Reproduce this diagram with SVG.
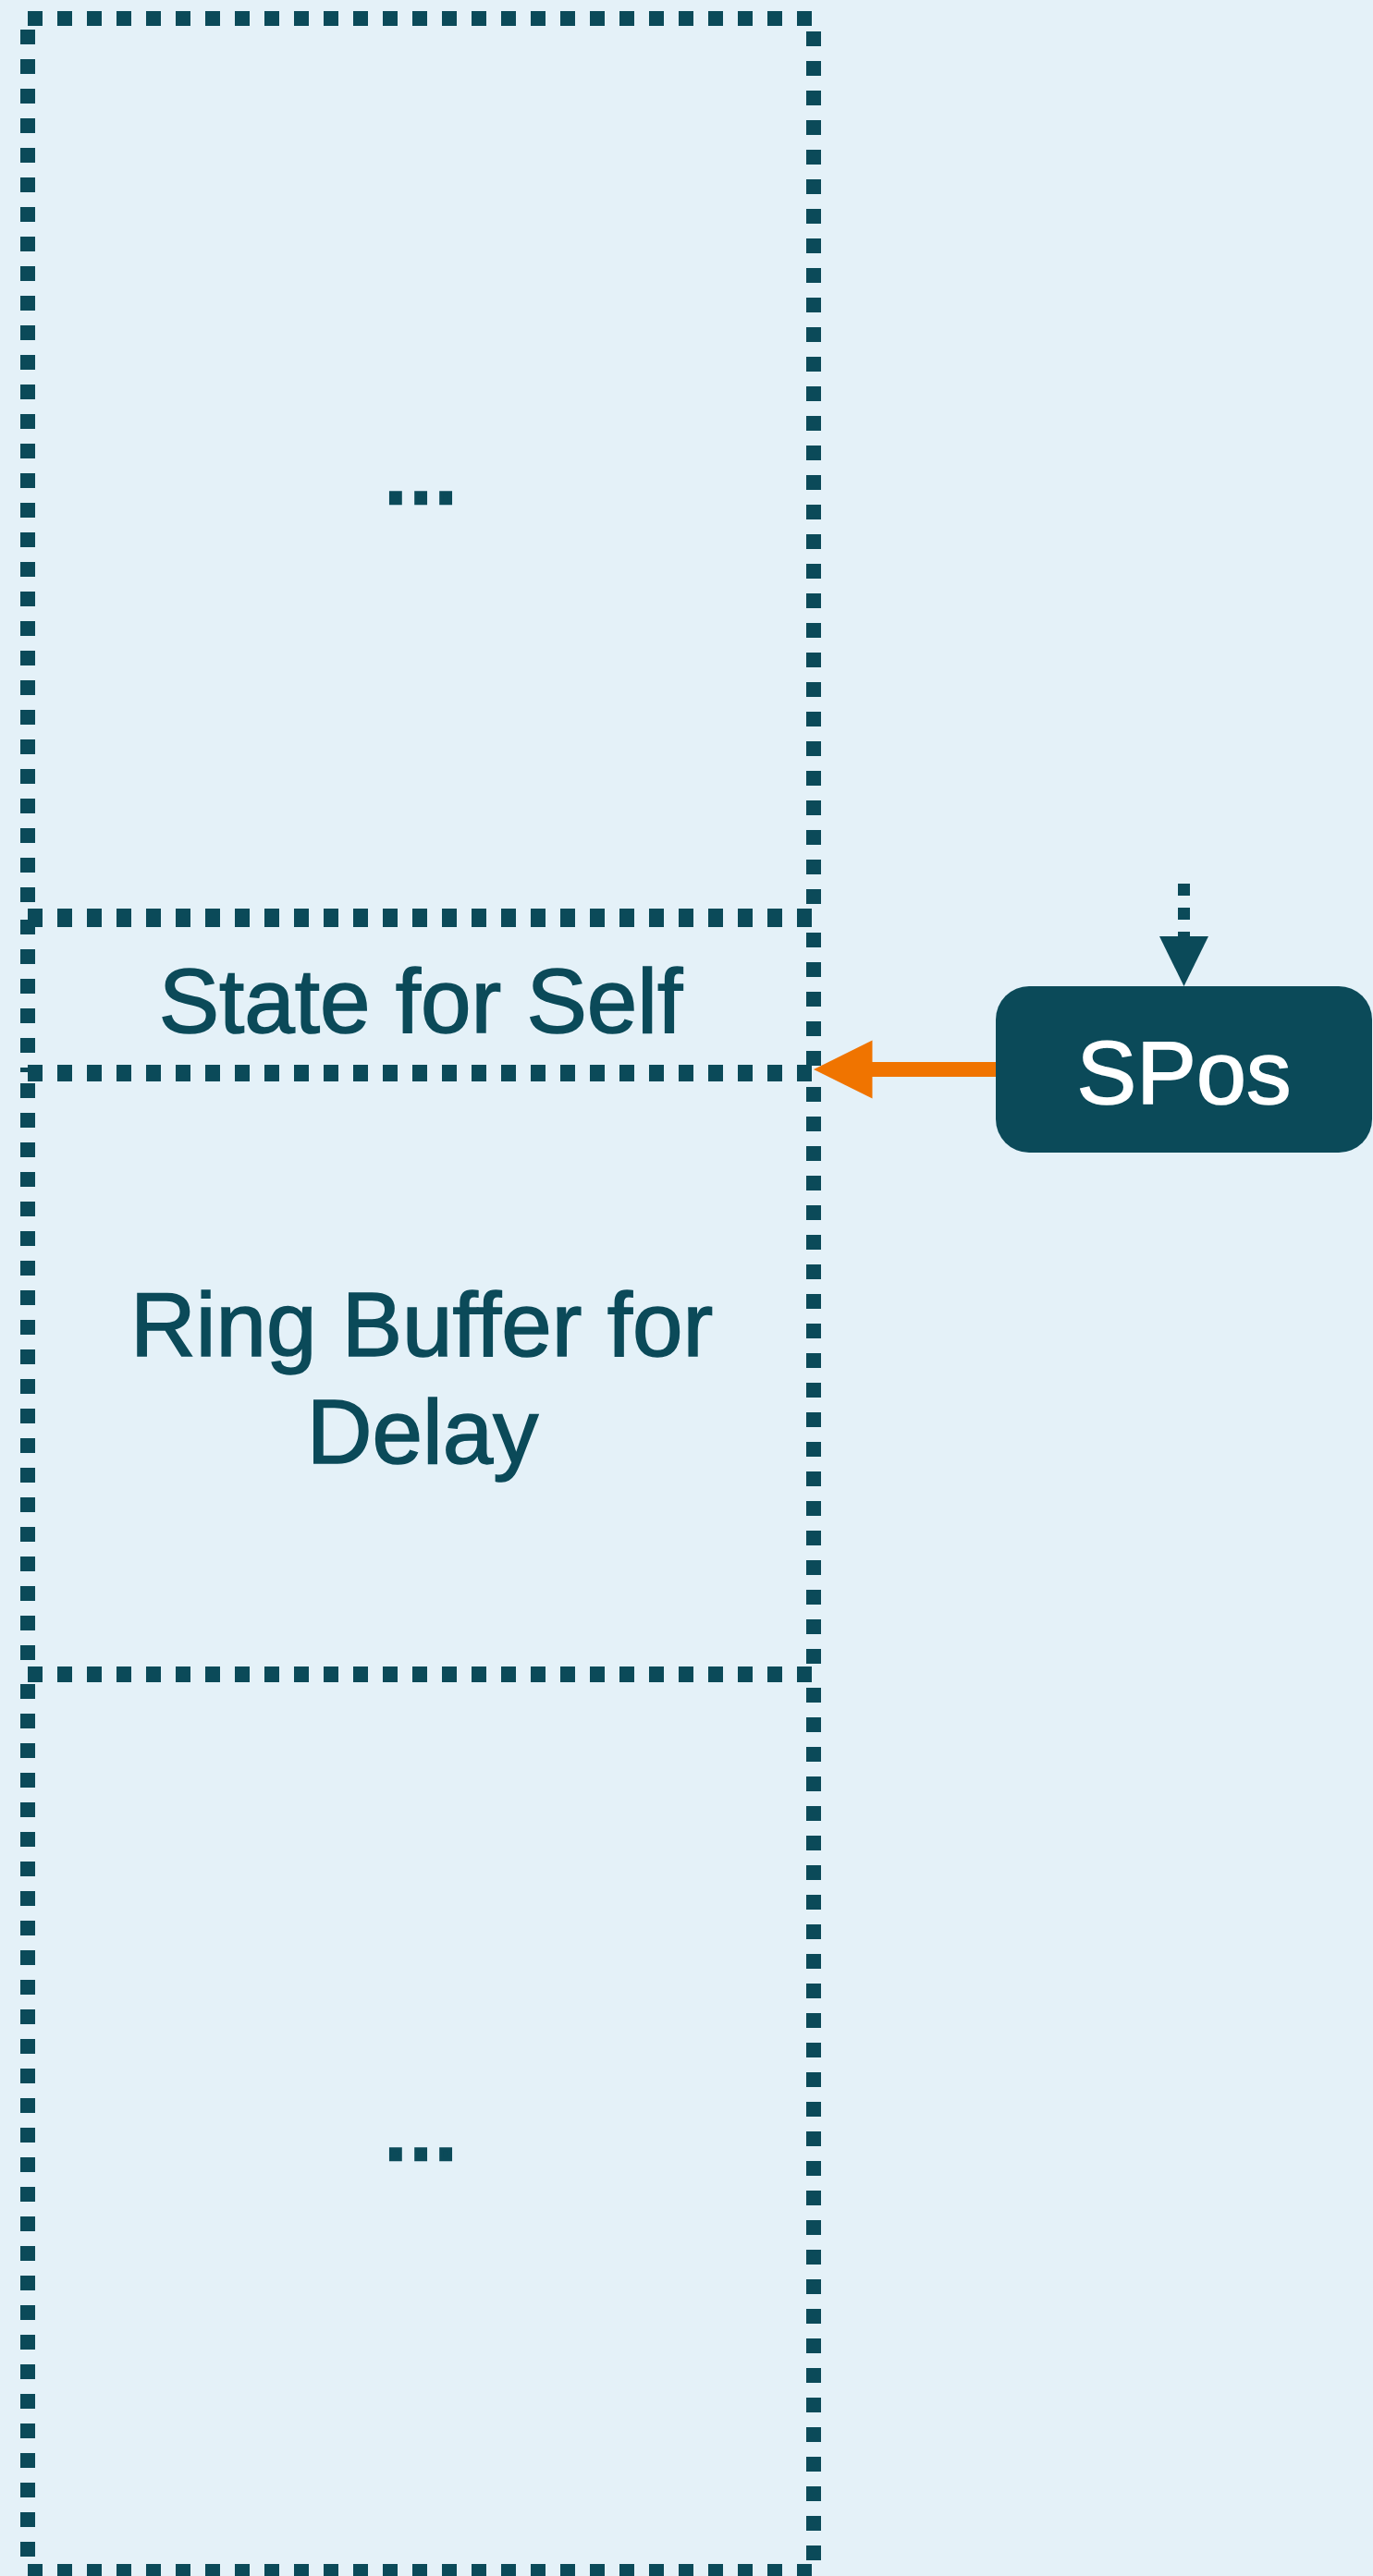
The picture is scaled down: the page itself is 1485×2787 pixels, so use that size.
<svg xmlns="http://www.w3.org/2000/svg" width="1485" height="2787" viewBox="0 0 1485 2787">
  <defs>
    <style>
      .edge { stroke: #0b4a59; stroke-width: 16; stroke-dasharray: 16 16; fill: none; }
      .label { font-family: "Liberation Sans", Arial, Helvetica, sans-serif; font-size: 98px; fill: #0b4a59; stroke: #0b4a59; stroke-width: 1.6; text-anchor: middle; }
      .dots { stroke-width: 4.5; stroke-linejoin: miter; }
      .nodetext { font-family: "Liberation Sans", Arial, Helvetica, sans-serif; font-size: 97px; fill: #ffffff; stroke: #ffffff; stroke-width: 1.6; text-anchor: middle; }
    </style>
  </defs>

  <rect x="0" y="0" width="1485" height="2787" fill="#e4f1f8"/>

  <!-- memory block: upper unspecified region -->
  <g id="region-upper">
    <line class="edge" x1="30" y1="20" x2="880" y2="20"/>
    <line class="edge" x1="30" y1="32" x2="30" y2="991"/>
    <line class="edge" x1="880" y1="34" x2="880" y2="991"/>
    <line class="edge" x1="30" y1="991" x2="880" y2="991"/>
    <text class="label dots" x="455" y="544">...</text>
  </g>

  <!-- memory block: state for self -->
  <g id="region-state">
    <line class="edge" x1="30" y1="995" x2="880" y2="995"/>
    <line class="edge" x1="30" y1="995" x2="30" y2="1160"/>
    <line class="edge" x1="880" y1="1009" x2="880" y2="1160"/>
    <line class="edge" x1="30" y1="1160" x2="880" y2="1160"/>
    <text class="label" x="455" y="1117">State for Self</text>
  </g>

  <!-- memory block: ring buffer -->
  <g id="region-ring">
    <line class="edge" x1="30" y1="1162" x2="880" y2="1162"/>
    <line class="edge" x1="30" y1="1172" x2="30" y2="1811"/>
    <line class="edge" x1="880" y1="1176" x2="880" y2="1811"/>
    <line class="edge" x1="30" y1="1811" x2="880" y2="1811"/>
    <text class="label" x="456" y="1467">Ring Buffer for</text>
    <text class="label" x="457" y="1583">Delay</text>
  </g>

  <!-- memory block: lower unspecified region -->
  <g id="region-lower">
    <line class="edge" x1="30" y1="1812" x2="880" y2="1812"/>
    <line class="edge" x1="30" y1="1822" x2="30" y2="2782"/>
    <line class="edge" x1="880" y1="1826" x2="880" y2="2782"/>
    <line class="edge" x1="30" y1="2782" x2="880" y2="2782"/>
    <text class="label dots" x="455" y="2336">...</text>
  </g>

  <!-- pointer node -->
  <g id="spos">
    <rect x="1077" y="1067" width="407" height="180" rx="36" ry="36" fill="#0b4a59"/>
    <text class="nodetext" x="1280.5" y="1194">SPos</text>
  </g>

  <g id="connectors">
    <!-- incoming dashed edge into SPos -->
    <line x1="1280.5" y1="956" x2="1280.5" y2="1014" stroke="#0b4a59" stroke-width="13" stroke-dasharray="13 13"/>
    <polygon points="1254,1013 1307,1013 1280.5,1067" fill="#0b4a59"/>
    <!-- SPos points at the state boundary -->
    <line x1="1077" y1="1157" x2="942" y2="1157" stroke="#f07400" stroke-width="16"/>
    <polygon points="880,1157 943.5,1125.5 943.5,1188.5" fill="#f07400"/>
  </g>
</svg>
